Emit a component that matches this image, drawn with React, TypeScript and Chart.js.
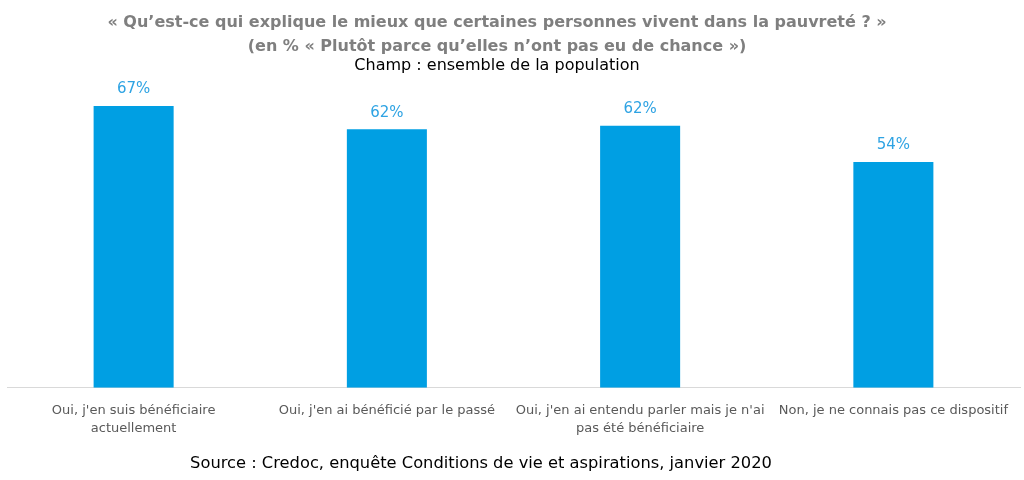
import React, { useEffect, useRef } from "react";
import { Chart, registerables } from "chart.js";

Chart.register(...registerables);

const categories: string[][] = [
  ["Oui, j'en suis bénéficiaire", "actuellement"],
  ["Oui, j'en ai bénéficié par le passé"],
  ["Oui, j'en ai entendu parler mais je n'ai", "pas été bénéficiaire"],
  ["Non, je ne connais pas ce dispositif"],
];
const values: number[] = [67, 61.5, 62.3, 53.7];
const valueLabels: string[] = ["67%", "62%", "62%", "54%"];
const titleLines: string[] = [
  "« Qu’est-ce qui explique le mieux que certaines personnes vivent dans la pauvreté ? »",
  "(en % « Plutôt parce qu’elles n’ont pas eu de chance »)",
];
const subtitleText = "Champ : ensemble de la population";
const sourceText = "Source : Credoc, enquête Conditions de vie et aspirations, janvier 2020";

const valueLabelPlugin = {
  id: "valueLabels",
  afterDatasetsDraw(chart: any) {
    const ctx = chart.ctx;
    const meta = chart.getDatasetMeta(0);
    ctx.save();
    ctx.font = "15px 'DejaVu Sans'";
    ctx.fillStyle = "#2ea3e3";
    ctx.textAlign = "center";
    ctx.textBaseline = "bottom";
    meta.data.forEach((bar: any, i: number) => {
      ctx.fillText(valueLabels[i], bar.x, bar.y - 9);
    });
    ctx.restore();
  },
};

const headerFooterPlugin = {
  id: "headerFooter",
  afterDraw(chart: any) {
    const ctx = chart.ctx;
    ctx.save();
    ctx.textAlign = "center";
    ctx.textBaseline = "middle";
    ctx.font = "bold 16px 'DejaVu Sans'";
    ctx.fillStyle = "#7f7f7f";
    ctx.fillText(titleLines[0], 497, 23);
    ctx.fillText(titleLines[1], 497, 47);
    ctx.font = "16px 'DejaVu Sans'";
    ctx.fillStyle = "#000000";
    ctx.fillText(subtitleText, 497, 66);
    ctx.font = "16.3px 'DejaVu Sans'";
    ctx.fillText(sourceText, 481, 464);
    ctx.restore();
  },
};

export default function App() {
  const ref = useRef<HTMLCanvasElement | null>(null);
  useEffect(() => {
    if (!ref.current) return;
    const chart = new Chart(ref.current, {
      type: "bar",
      data: {
        labels: categories,
        datasets: [
          {
            data: values,
            backgroundColor: "#009fe3",
            categoryPercentage: 1,
            barPercentage: 0.316,
          },
        ],
      },
      options: {
        responsive: false,
        animation: false,
        layout: { padding: { left: 7, right: 4, top: 84.2, bottom: 36.6 } },
        plugins: {
          legend: { display: false },
          tooltip: { enabled: false },
          title: { display: false },
        },
        scales: {
          x: {
            grid: { display: false },
            border: { display: true, color: "#d9d9d9", width: 1 },
            ticks: {
              color: "#595959",
              font: { family: "'DejaVu Sans'", size: 13, lineHeight: 1.45 },
              maxRotation: 0,
              autoSkip: false,
              padding: 5,
            },
          },
          y: {
            display: false,
            min: 0,
            max: 72.2,
          },
        },
      },
      plugins: [valueLabelPlugin, headerFooterPlugin],
    });
    return () => chart.destroy();
  }, []);
  return (
    <div style={{ position: "fixed", left: 0, top: 0, width: 1024, height: 480, background: "#fff" }}>
      <canvas ref={ref} width={1024} height={480} style={{ width: 1024, height: 480 }} />
    </div>
  );
}
